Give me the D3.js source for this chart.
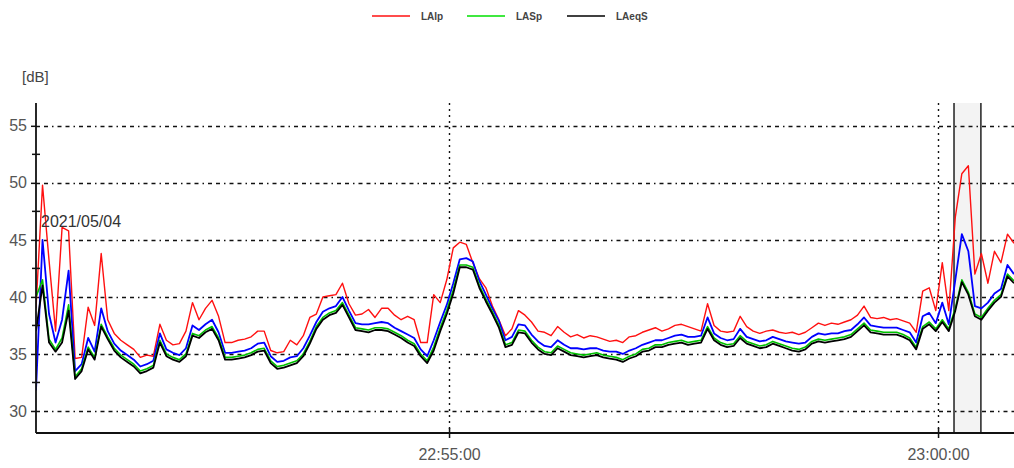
<!DOCTYPE html>
<html>
<head>
<meta charset="utf-8">
<script src="https://cdn.jsdelivr.net/npm/d3@7"></script>
<style>
  html, body { margin: 0; padding: 0; background: #fff; }
  svg { display: block; }
  text { font-family: "Liberation Sans", Arial, sans-serif; }
</style>
</head>
<body>
<script>
// ---------- DATA ----------
const startTime = "2021-05-04T22:50:46.600";
const endTime = "2021-05-04T23:00:46.600";
const sampleSeconds = 4;
const dateLabel = "2021/05/04";
const yUnit = "[dB]";
const yTicks = [30, 35, 40, 45, 50, 55];
const yMinorTicks = [32.5, 37.5, 42.5, 47.5, 52.5];
const xTickTimes = ["2021-05-04T22:55:00", "2021-05-04T23:00:00"];
const markedInterval = ["2021-05-04T23:00:09.800", "2021-05-04T23:00:26.300"];
const seriesNames = ["LAlp", "LASp", "LAeqS"];

const LAlp = [39.0,49.8,43.2,37.0,46.1,45.8,34.6,34.7,39.1,37.5,43.8,38.0,36.8,36.2,35.8,35.4,34.7,34.9,34.8,37.6,
36.2,35.8,35.9,37.0,39.5,38.0,39.0,39.7,38.3,36.0,36.0,36.2,36.3,36.5,37.0,37.0,35.3,35.1,35.2,36.2,
35.8,36.6,38.2,38.5,40.0,40.1,40.2,41.2,39.4,38.4,38.5,38.9,38.2,39.0,39.0,38.4,38.0,38.3,38.0,36.0,
36.0,40.2,39.5,41.5,44.3,44.8,44.6,43.0,41.6,40.8,39.2,38.0,36.6,37.2,38.8,38.4,37.8,37.0,36.9,36.6,
37.4,36.9,36.5,36.7,36.4,36.6,36.5,36.3,36.1,36.2,36.0,36.5,36.6,36.9,37.1,37.3,37.0,37.2,37.5,37.6,
37.4,37.2,37.0,39.4,37.5,37.0,36.9,37.0,38.3,37.4,37.0,36.8,37.0,37.1,36.9,36.8,36.9,36.7,36.9,37.3,
37.7,37.5,37.7,37.6,37.8,38.0,38.4,39.2,38.2,38.1,38.2,38.0,38.1,37.9,37.7,36.9,40.5,40.8,38.8,43.0,
38.8,47.0,50.8,51.5,42.0,43.8,41.2,44.0,43.0,45.5,44.7];

const LAblue = [31.8,45.0,38.5,36.0,38.0,42.3,33.5,34.1,36.4,35.2,39.0,37.0,35.9,35.3,34.9,34.5,33.9,34.1,34.4,36.8,
35.4,35.1,34.9,35.5,37.5,37.1,37.6,38.0,36.9,35.1,35.1,35.2,35.3,35.5,35.9,36.0,34.8,34.3,34.4,34.7,
34.8,35.5,36.6,37.8,38.7,39.0,39.2,40.0,38.8,37.7,37.6,37.6,37.7,37.8,37.7,37.3,37.0,36.7,36.4,35.4,
34.8,36.2,37.8,39.3,41.2,43.3,43.4,43.1,41.4,40.2,39.0,37.9,36.2,36.5,37.6,37.5,36.7,36.1,35.7,35.6,
36.2,35.8,35.5,35.5,35.4,35.5,35.5,35.3,35.2,35.2,35.0,35.3,35.5,35.8,36.0,36.2,36.2,36.4,36.6,36.7,
36.5,36.5,36.6,38.2,36.8,36.4,36.2,36.3,37.2,36.5,36.3,36.1,36.2,36.5,36.3,36.1,36.0,35.9,36.0,36.5,
36.8,36.7,36.8,36.8,37.0,37.1,37.6,38.2,37.5,37.4,37.3,37.3,37.3,37.1,36.9,36.0,38.3,38.6,37.7,39.5,
37.6,41.5,45.5,44.0,39.2,39.0,39.5,40.3,40.7,42.8,42.0];

const LASp = [40.0,41.5,36.3,35.4,36.4,39.3,33.0,33.7,35.6,34.7,37.6,36.5,35.5,34.9,34.5,34.1,33.5,33.7,34.0,36.2,
35.0,34.7,34.5,35.0,36.8,36.6,37.1,37.4,36.4,34.7,34.7,34.8,34.9,35.1,35.4,35.5,34.4,33.9,34.0,34.2,
34.4,35.0,36.1,37.4,38.2,38.6,38.8,39.5,38.4,37.3,37.2,37.1,37.3,37.3,37.2,36.9,36.6,36.2,35.9,35.0,
34.4,35.6,37.3,38.8,40.6,42.8,42.8,42.6,41.0,39.8,38.7,37.5,35.8,36.0,37.1,37.0,36.2,35.6,35.2,35.1,
35.7,35.4,35.1,35.0,34.9,35.0,35.1,34.9,34.8,34.7,34.5,34.8,35.0,35.4,35.5,35.8,35.8,36.0,36.1,36.2,
36.0,36.1,36.2,37.4,36.4,36.0,35.8,35.9,36.6,36.1,35.9,35.7,35.8,36.1,35.9,35.7,35.5,35.4,35.6,36.1,
36.3,36.2,36.3,36.4,36.5,36.7,37.2,37.7,37.1,37.0,36.9,36.9,36.9,36.7,36.4,35.6,37.4,37.8,37.2,38.0,
37.2,39.0,41.5,40.4,38.5,38.2,39.0,39.7,40.2,42.0,41.4];

const LAeqS = [37.0,41.0,36.0,35.2,36.0,38.8,32.8,33.5,35.4,34.5,37.4,36.3,35.3,34.7,34.3,33.9,33.3,33.5,33.8,36.0,
34.8,34.5,34.3,34.8,36.6,36.4,36.9,37.2,36.2,34.5,34.5,34.6,34.7,34.9,35.2,35.3,34.2,33.7,33.8,34.0,
34.2,34.8,35.9,37.2,38.0,38.4,38.6,39.3,38.2,37.1,37.0,36.9,37.1,37.1,37.0,36.7,36.4,36.0,35.7,34.8,
34.2,35.3,37.0,38.5,40.3,42.6,42.6,42.4,40.8,39.6,38.5,37.3,35.6,35.8,36.9,36.8,36.0,35.4,35.0,34.9,
35.5,35.2,34.9,34.8,34.7,34.8,34.9,34.7,34.6,34.5,34.3,34.6,34.8,35.2,35.3,35.6,35.6,35.8,35.9,36.0,
35.8,35.9,36.0,37.2,36.2,35.8,35.6,35.7,36.4,35.9,35.7,35.5,35.6,35.9,35.7,35.5,35.3,35.2,35.4,35.9,
36.1,36.0,36.1,36.2,36.3,36.5,37.0,37.5,36.9,36.8,36.7,36.7,36.7,36.5,36.2,35.4,37.2,37.6,37.0,37.8,
37.0,38.8,41.3,40.2,38.3,38.0,38.8,39.5,40.0,41.8,41.2];

// ---------- CHART ----------
const W = 1014, H = 468;
const plot = { left: 36, right: 1014, top: 103, bottom: 433 };

const parse = s => new Date(s);
const t0 = parse(startTime);
const times = LAlp.map((_, i) => new Date(t0.getTime() + i * sampleSeconds * 1000));

const x = d3.scaleTime().domain([t0, parse(endTime)]).range([plot.left, plot.right]);
const y = d3.scaleLinear().domain([28.07, 57.0]).range([plot.bottom, plot.top]);

const svg = d3.select("body").append("svg").attr("width", W).attr("height", H);

svg.append("defs").append("clipPath").attr("id", "clip")
  .append("rect").attr("x", plot.left).attr("y", plot.top)
  .attr("width", plot.right - plot.left).attr("height", plot.bottom - plot.top);

// marked interval band
const bx0 = x(parse(markedInterval[0])), bx1 = x(parse(markedInterval[1]));
svg.append("rect").attr("x", bx0).attr("y", plot.top).attr("width", bx1 - bx0)
  .attr("height", plot.bottom - plot.top + 1).attr("fill", "#f3f3f3");
[bx0, bx1].forEach(bx => svg.append("line").attr("x1", bx).attr("x2", bx)
  .attr("y1", plot.top).attr("y2", plot.bottom + 1).attr("stroke", "#111").attr("stroke-width", 1.4));

// horizontal grid
svg.append("g").selectAll("line").data(yTicks).join("line")
  .attr("x1", plot.left).attr("x2", plot.right)
  .attr("y1", d => Math.round(y(d)) + 0.5).attr("y2", d => Math.round(y(d)) + 0.5)
  .attr("stroke", "#111").attr("stroke-width", 1.3).attr("stroke-dasharray", "4,4,4,4,1.5,4");

// vertical grid
svg.append("g").selectAll("line").data(xTickTimes.map(parse)).join("line")
  .attr("x1", d => Math.round(x(d)) + 0.5).attr("x2", d => Math.round(x(d)) + 0.5)
  .attr("y1", plot.top).attr("y2", plot.bottom)
  .attr("stroke", "#111").attr("stroke-width", 1.4).attr("stroke-dasharray", "2,4");

// series lines
const line = vals => d3.line().x((d, i) => x(times[i])).y(d => y(d))(vals);
const series = [
  { vals: LAlp, color: "#ff1010", w: 1.4 },
  { vals: LAblue, color: "#0000ff", w: 1.8 },
  { vals: LASp, color: "#00c000", w: 1.6 },
  { vals: LAeqS, color: "#000000", w: 1.8 }
];
const gl = svg.append("g").attr("clip-path", "url(#clip)");
series.forEach(s => gl.append("path").attr("d", line(s.vals))
  .attr("fill", "none").attr("stroke", s.color).attr("stroke-width", s.w)
  .attr("stroke-linejoin", "round"));

// y axis
const yAxis = d3.axisLeft(y).tickValues(yTicks).tickSize(5).tickPadding(4);
const gy = svg.append("g").attr("transform", `translate(${plot.left},0)`).call(yAxis);
gy.select(".domain").remove();
gy.selectAll("text").attr("font-size", 16).attr("fill", "#555")
  .attr("font-family", "'Liberation Sans', Arial, sans-serif");
gy.selectAll(".tick line").attr("stroke", "#111").attr("stroke-width", 1.5);
svg.append("g").selectAll("line").data(yMinorTicks).join("line")
  .attr("x1", plot.left - 4).attr("x2", plot.left + 4)
  .attr("y1", d => y(d)).attr("y2", d => y(d))
  .attr("stroke", "#111").attr("stroke-width", 1.5);
svg.append("line").attr("x1", plot.left).attr("x2", plot.left)
  .attr("y1", plot.top).attr("y2", plot.bottom).attr("stroke", "#111").attr("stroke-width", 1.8);

// x axis
const xAxis = d3.axisBottom(x).tickValues(xTickTimes.map(parse))
  .tickFormat(d3.timeFormat("%H:%M:%S")).tickSize(5).tickPadding(11);
const gx = svg.append("g").attr("transform", `translate(0,${plot.bottom})`).call(xAxis);
gx.select(".domain").remove();
gx.selectAll("text").attr("font-size", 16).attr("fill", "#555")
  .attr("font-family", "'Liberation Sans', Arial, sans-serif");
gx.selectAll(".tick line").attr("y1", -5).attr("y2", 5).attr("stroke", "#111").attr("stroke-width", 1.5);
svg.append("line").attr("x1", plot.left).attr("x2", plot.right)
  .attr("y1", plot.bottom).attr("y2", plot.bottom).attr("stroke", "#111").attr("stroke-width", 1.8);

// unit & date labels
svg.append("text").attr("x", 22).attr("y", 82).attr("font-size", 15).attr("fill", "#444").text(yUnit);
svg.append("text").attr("x", 41).attr("y", 227).attr("font-size", 16).attr("fill", "#333").text(dateLabel);

// legend
const legendColors = ["#ff1010", "#00e000", "#000000"];
const legendX = [372, 467, 567];
const lg = svg.append("g");
seriesNames.forEach((n, i) => {
  lg.append("line").attr("x1", legendX[i]).attr("x2", legendX[i] + 38)
    .attr("y1", 16).attr("y2", 16).attr("stroke", legendColors[i]).attr("stroke-width", 1.5);
  lg.append("text").attr("x", legendX[i] + 49).attr("y", 20).attr("font-size", 10)
    .attr("font-weight", "bold").attr("fill", "#444").text(n);
});
</script>
</body>
</html>
